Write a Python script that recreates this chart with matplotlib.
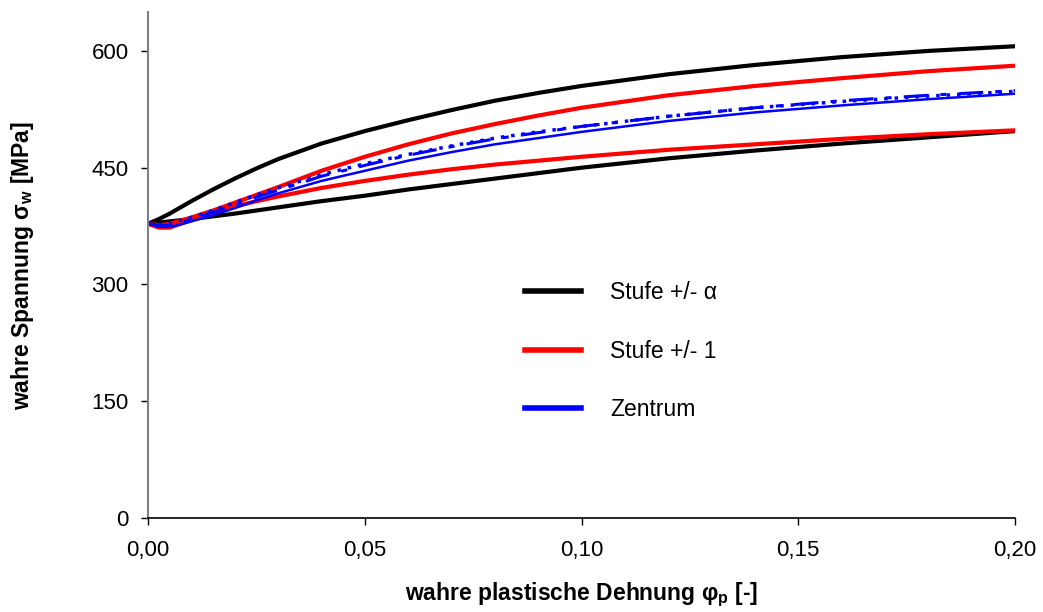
import matplotlib.pyplot as plt
from matplotlib.lines import Line2D
from matplotlib.ticker import FuncFormatter, MultipleLocator

plt.rcParams['font.family'] = ['Liberation Sans', 'DejaVu Sans']
plt.rcParams['mathtext.fontset'] = 'custom'
plt.rcParams['mathtext.rm'] = 'Liberation Sans'
plt.rcParams['mathtext.bf'] = 'Liberation Sans:bold'

# strain values (wahre plastische Dehnung)
strain = [0.0, 0.0025, 0.005, 0.0075, 0.01, 0.015, 0.02, 0.025, 0.03, 0.04, 0.05,
          0.06, 0.07, 0.08, 0.09, 0.10, 0.12, 0.14, 0.16, 0.18, 0.20]

# flow curves, stress in MPa
black_upper = [378, 384, 391, 399, 407, 422, 436, 449, 461, 481, 497,
               511, 524, 536, 546, 555, 570, 582, 592, 600, 606]
black_lower = [378, 379.5, 381, 382.5, 384, 387.5, 391, 395, 399, 407, 414,
               422, 429, 436, 443, 450, 462, 472, 481, 489, 497]
red_upper = [378, 376, 378, 382, 386, 395, 405, 415, 425, 446, 464,
             480, 494, 506, 517, 527, 543, 555, 565, 574, 581]
red_lower = [378, 373, 373, 378, 383, 392, 400, 407, 413, 424, 433,
             441, 448, 454, 459, 464, 473, 480, 487, 493, 498]
blue_solid = [378, 374, 374, 377, 381, 389, 398, 408, 417, 433, 446,
              459, 470, 480, 488, 496, 510, 521, 530, 538, 545]
blue_dashdot = [378, 376, 376, 380, 384, 393, 402, 412, 421, 439, 453,
                466, 477, 487, 495, 503, 516, 527, 536, 543, 549]
blue_dotted = [378, 377, 378, 382, 386, 395, 405, 415, 424, 441, 455,
               467, 478, 488, 496, 503, 516, 527, 535, 542, 548]

legend_labels = ['Stufe +/- α', 'Stufe +/- 1', 'Zentrum']


def generate_plot():
    fig = plt.figure(figsize=(10.43, 6.12), dpi=100)
    ax = fig.add_axes([0.1419, 0.1536, 0.8313, 0.8268])

    ax.plot(strain, black_upper, color='black', lw=3)
    ax.plot(strain, black_lower, color='black', lw=3)
    ax.plot(strain, red_upper, color='#ff0000', lw=3)
    ax.plot(strain, red_lower, color='#ff0000', lw=3)
    ax.plot(strain, blue_dotted, color='#0000ff', lw=2.5, ls=(0, (1, 2)))
    ax.plot(strain, blue_dashdot, color='#0000ff', lw=2.2, ls=(0, (8, 4, 2, 4)))
    ax.plot(strain, blue_solid, color='#0000ff', lw=1.8)

    ax.set_xlim(0, 0.20)
    ax.set_ylim(0, 650)
    ax.xaxis.set_major_locator(MultipleLocator(0.05))
    ax.yaxis.set_major_locator(MultipleLocator(150))
    ax.xaxis.set_major_formatter(FuncFormatter(lambda v, p: f'{v:.2f}'.replace('.', ',')))

    for side in ['top', 'right']:
        ax.spines[side].set_visible(False)
    ax.spines['left'].set_color('#808080')
    ax.spines['left'].set_linewidth(1.5)
    ax.spines['bottom'].set_color('black')
    ax.spines['bottom'].set_linewidth(1.2)
    ax.tick_params(direction='out', length=5, width=1, labelsize=16)
    ax.tick_params(axis='x', pad=11)
    ax.tick_params(axis='y', pad=9)

    ax.set_xlabel(r'wahre plastische Dehnung φ$_\mathbf{p}$ [-]', fontsize=16.5,
                  fontweight='bold', labelpad=14)
    ax.set_ylabel(r'wahre Spannung σ$_\mathbf{w}$ [MPa]', fontsize=16.5,
                  fontweight='bold', labelpad=40)

    handles = [Line2D([], [], color='black', lw=4),
               Line2D([], [], color='#ff0000', lw=4),
               Line2D([], [], color='#0000ff', lw=4)]
    ax.legend(handles, legend_labels, loc='upper left', bbox_to_anchor=(0.435, 0.4676),
              frameon=False, fontsize=16.5, handlelength=2.45, handletextpad=1.27,
              labelspacing=1.55, borderaxespad=0, borderpad=0)

    fig.savefig('out.png', dpi=100)


if __name__ == '__main__':
    generate_plot()
